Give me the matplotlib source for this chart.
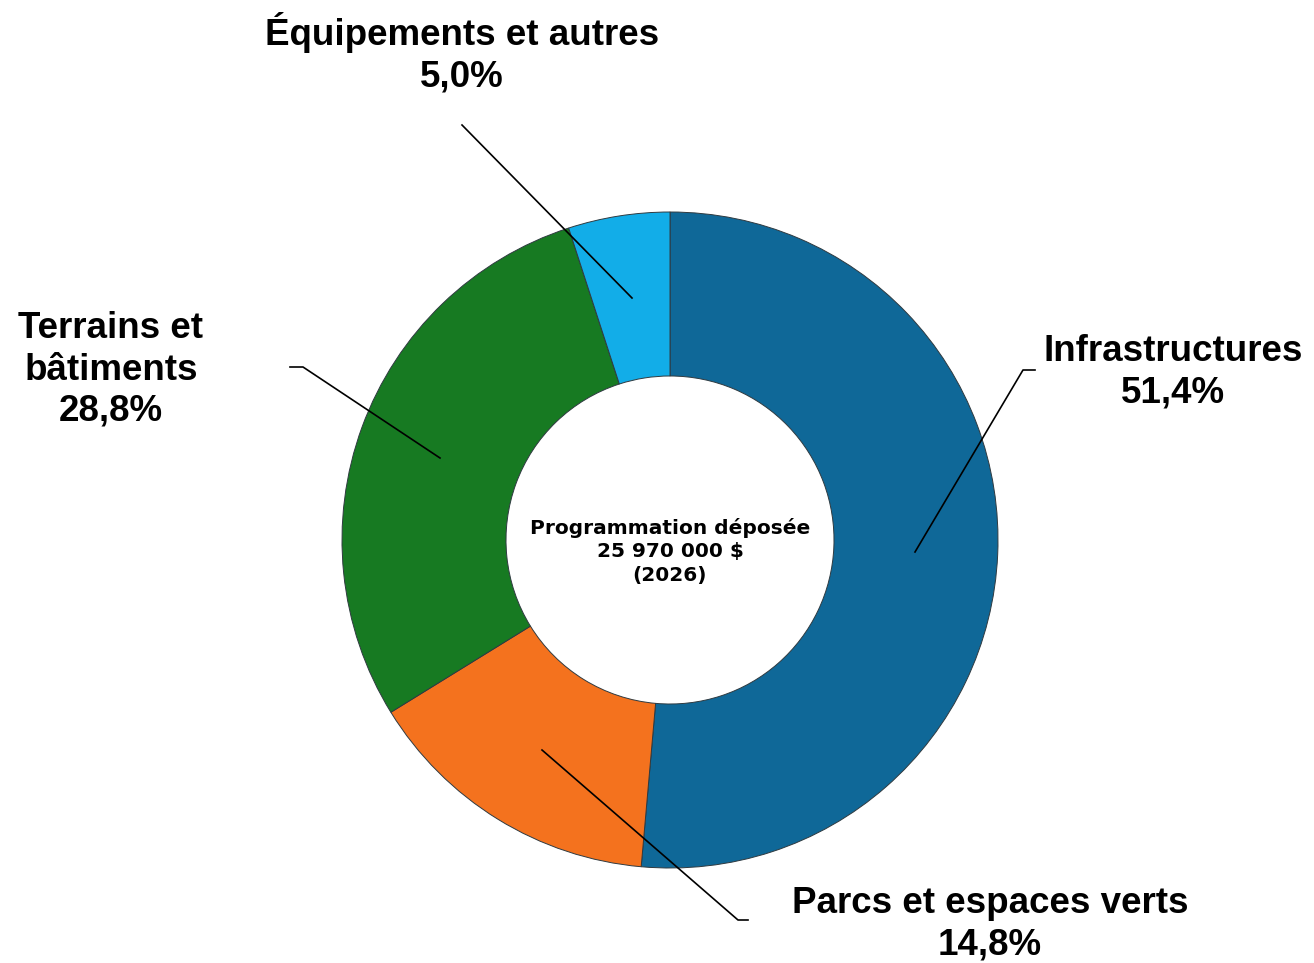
import matplotlib
matplotlib.use("Agg")
import matplotlib.pyplot as plt

categories = ["Infrastructures", "Parcs et espaces verts", "Terrains et\nbâtiments", "Équipements et autres"]
values = [51.4, 14.8, 28.8, 5.0]
pct_labels = ["51,4%", "14,8%", "28,8%", "5,0%"]
colors = ["#0F6898", "#F4721E", "#177A22", "#12ADE8"]
center_text = "Programmation déposée\n25 970 000 $\n(2026)"

W, H = 1314, 963
fig = plt.figure(figsize=(W / 100, H / 100), dpi=100)
ax = fig.add_axes([0, 0, 1, 1])

cx, cy, R = 670, H - 540, 328
wedges, _ = ax.pie(values, colors=colors, startangle=90, counterclock=False,
                   center=(cx, cy), radius=R, frame=True,
                   wedgeprops=dict(width=R * 0.5, edgecolor="#2f3a40", linewidth=0.7))
ax.set_xlim(0, W)
ax.set_ylim(0, H)
ax.set_aspect("auto")
ax.axis("off")

ax.text(cx, H - 551, center_text, ha="center", va="center", fontsize=14.5,
        fontweight="bold", family="DejaVu Sans", linespacing=1.3)

lab_font = dict(fontsize=26.5, fontweight="bold", family="Liberation Sans", linespacing=1.23)

def y(v):
    return H - v

# Infrastructures
ax.plot([915, 1023, 1035], [y(552), y(370), y(370)], color="black", lw=1.2)
ax.text(1173, y(372), categories[0] + "\n" + pct_labels[0], ha="center", va="center", **lab_font)
# Parcs
ax.plot([542, 738, 748], [y(750), y(920), y(920)], color="black", lw=1.2)
ax.text(990, y(924), categories[1] + "\n" + pct_labels[1], ha="center", va="center", **lab_font)
# Terrains
ax.plot([440, 303, 290], [y(458), y(367), y(367)], color="black", lw=1.2)
ax.text(111, y(370), categories[2] + "\n" + pct_labels[2], ha="center", va="center", **lab_font)
# Equipements
ax.plot([632, 462], [y(298), y(125)], color="black", lw=1.2)
ax.text(462, y(53), categories[3] + "\n" + pct_labels[3], ha="center", va="center", **lab_font)

fig.savefig("out.png", dpi=100)
